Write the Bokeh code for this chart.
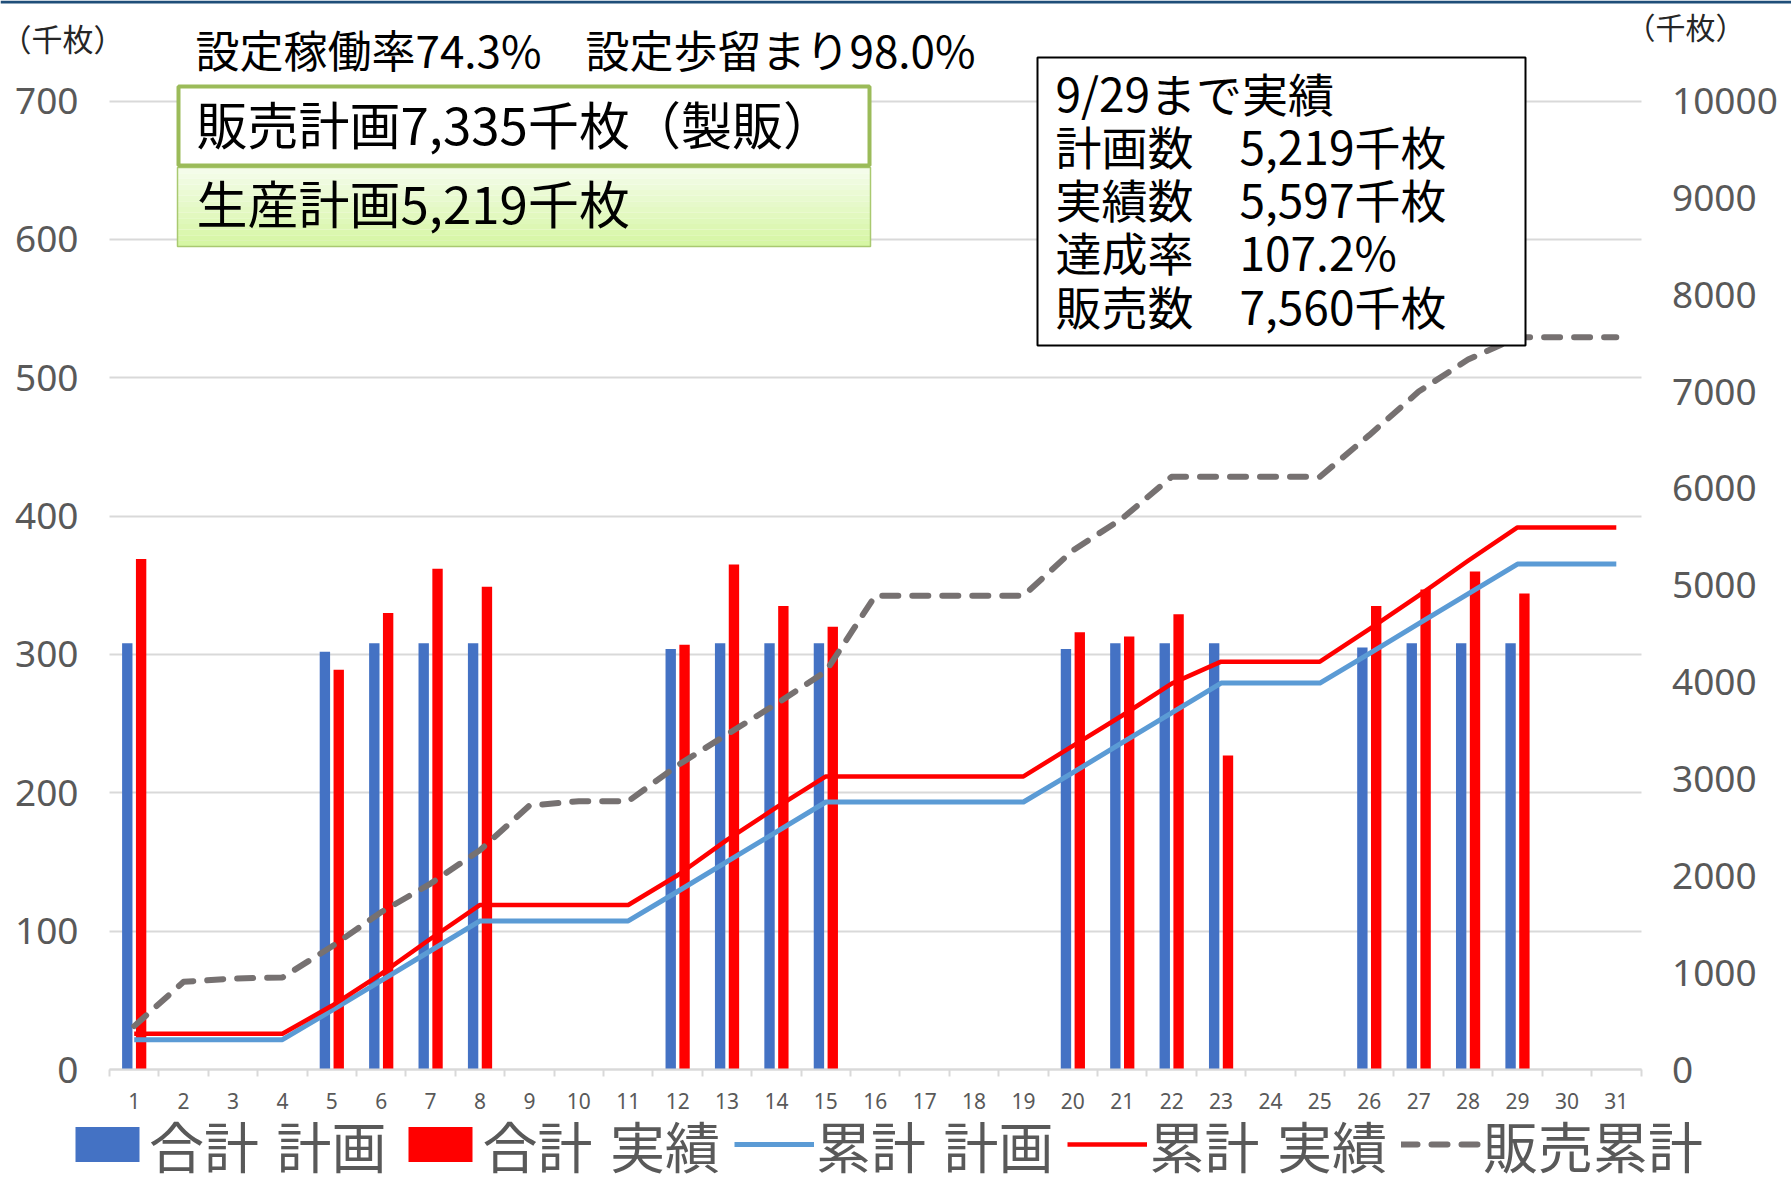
from bokeh.plotting import figure
from bokeh.models import (Range1d, LinearAxis, FixedTicker, ColumnDataSource, Legend,
                          LegendItem, Label, BoxAnnotation, Grid)
from bokeh.transform import dodge
from bokeh.embed import file_html
from bokeh.resources import INLINE

# ---------------- data ----------------
days = list(range(1, 32))
plan_daily = [308, 0, 0, 0, 302, 308, 308, 308, 0, 0, 0, 304, 308, 308, 308, 0,
              0, 0, 0, 304, 308, 308, 308, 0, 0, 305, 308, 308, 308, 0, 0]
actual_daily = [369, 0, 0, 0, 289, 330, 362, 349, 0, 0, 0, 307, 365, 335, 320, 0,
                0, 0, 0, 316, 313, 329, 227, 0, 0, 335, 347, 360, 344, 0, 0]
cum_plan = [308, 308, 308, 308, 610, 918, 1226, 1534, 1534, 1534, 1534, 1838, 2146,
            2454, 2762, 2762, 2762, 2762, 2762, 3066, 3374, 3682, 3990, 3990, 3990,
            4295, 4603, 4911, 5219, 5219, 5219]
cum_actual = [369, 369, 369, 369, 658, 988, 1350, 1699, 1699, 1699, 1699, 2006, 2371,
              2706, 3026, 3026, 3026, 3026, 3026, 3342, 3655, 3984, 4211, 4211, 4211,
              4546, 4893, 5253, 5597, 5597, 5597]
cum_sales = [448, 905, 940, 950, 1270, 1625, 1920, 2265, 2725, 2770, 2770, 3140, 3460,
             3775, 4110, 4892, 4892, 4892, 4892, 5360, 5690, 6120, 6120, 6120, 6120,
             6550, 7000, 7330, 7560, 7560, 7560]
left_ticks = [0, 100, 200, 300, 400, 500, 600, 700]
right_ticks = [0, 1000, 2000, 3000, 4000, 5000, 6000, 7000, 8000, 9000, 10000]
legend_labels = ["合計 計画", "合計 実績", "累計 計画", "累計 実績", "販売累計"]
title_text = "設定稼働率74.3%　設定歩留まり98.0%"
box1_text = "販売計画7,335千枚（製販）"
box2_text = "生産計画5,219千枚"
info_lines = ["9/29まで実績", "計画数　5,219千枚", "実績数　5,597千枚",
              "達成率　107.2%", "販売数　7,560千枚"]
unit_text = "（千枚）"

# ---------------- layout (page pixels) ----------------
W, H = 1791, 1184
FL, FR, FT, FB = 109.0, 1640.5, 100.5, 1069.0   # where the chart area sits
XMIN, XMAX = 0.5, 31.5
YMAX_L, YMAX_R = 700.0, 10000.0
PXX = (FR - FL) / (XMAX - XMIN)
PXY = (FB - FT) / YMAX_L


def dx(px):
    return XMIN + (px - FL) / PXX


def dy(py):
    return (FB - py) / PXY


BLUE = "#4472C4"
RED = "#FF0000"
LBLUE = "#5B9BD5"
GRAY = "#767171"
TXT = "#595959"
GRID = "#D9D9D9"
CJK = "Noto Sans CJK JP"

y0, y1 = dy(H), dy(0)
p = figure(width=W, height=H, x_range=Range1d(dx(0), dx(W)), y_range=Range1d(y0, y1),
           output_backend="svg", toolbar_location=None,
           x_axis_location=None, y_axis_location=None,
           min_border_left=0, min_border_right=0, min_border_top=0, min_border_bottom=0)
p.outline_line_color = None
p.background_fill_color = "white"
p.border_fill_color = "white"
p.extra_y_ranges = {"cum": Range1d(y0 * YMAX_R / YMAX_L, y1 * YMAX_R / YMAX_L)}
p.center = [r for r in p.center if not isinstance(r, Grid)]

# grid
g = Grid(dimension=1, ticker=FixedTicker(ticks=left_ticks), grid_line_color=GRID,
         grid_line_width=2)
if "cross_bounds" in Grid.properties():
    g.cross_bounds = (XMIN, XMAX)
p.add_layout(g, "center")

# axes
xa = LinearAxis(fixed_location=0, bounds=(XMIN, XMAX),
                ticker=FixedTicker(ticks=days, minor_ticks=[d - 0.5 for d in days] + [31.5]))
xa.axis_line_color = GRID
xa.axis_line_width = 2
xa.major_tick_line_color = None
xa.major_tick_out = 0
xa.major_tick_in = 0
xa.minor_tick_line_color = GRID
xa.minor_tick_line_width = 2
xa.minor_tick_out = 7
xa.minor_tick_in = 0
xa.major_label_standoff = 16
xa.major_label_text_font = "Noto Sans"
xa.major_label_text_font_size = "21px"
xa.major_label_text_color = TXT
p.add_layout(xa, "below")

ya = LinearAxis(fixed_location=XMIN, bounds=(0, YMAX_L), ticker=FixedTicker(ticks=left_ticks))
ra = LinearAxis(fixed_location=XMAX, bounds=(0, YMAX_R), y_range_name="cum",
                ticker=FixedTicker(ticks=right_ticks))
for ax in (ya, ra):
    ax.axis_line_color = None
    ax.major_tick_line_color = None
    ax.minor_tick_line_color = None
    ax.major_tick_out = 0
    ax.major_tick_in = 0
    ax.minor_tick_out = 0
    ax.major_label_standoff = 31
    ax.major_label_text_font = "Noto Sans"
    ax.major_label_text_font_size = "37px"
    ax.major_label_text_color = TXT
p.add_layout(ya, "left")
p.add_layout(ra, "right")

# bars
bsrc = ColumnDataSource(dict(
    day=[d for d, v in zip(days, plan_daily) if v > 0],
    plan=[v for v in plan_daily if v > 0],
    actual=[a for a, v in zip(actual_daily, plan_daily) if v > 0],
))
r_plan = p.vbar(x=dodge("day", -0.14, range=p.x_range), top="plan", width=0.21,
                source=bsrc, fill_color=BLUE, line_color=None)
r_act = p.vbar(x=dodge("day", 0.14, range=p.x_range), top="actual", width=0.21,
               source=bsrc, fill_color=RED, line_color=None)

# cumulative lines
lsrc = ColumnDataSource(dict(day=days, cp=cum_plan, ca=cum_actual, cs=cum_sales))
r_cp = p.line("day", "cp", source=lsrc, y_range_name="cum", line_color=LBLUE,
              line_width=5, line_join="round")
r_ca = p.line("day", "ca", source=lsrc, y_range_name="cum", line_color=RED,
              line_width=4.5, line_join="round")
r_cs = p.line("day", "cs", source=lsrc, y_range_name="cum", line_color=GRAY,
              line_width=6, line_dash="16 14", line_cap="round", line_join="round")

# legend
legend = Legend(items=[LegendItem(label=legend_labels[0], renderers=[r_plan]),
                       LegendItem(label=legend_labels[1], renderers=[r_act]),
                       LegendItem(label=legend_labels[2], renderers=[r_cp]),
                       LegendItem(label=legend_labels[3], renderers=[r_ca]),
                       LegendItem(label=legend_labels[4], renderers=[r_cs])],
                orientation="horizontal", location=(67, 0),
                glyph_width=80, glyph_height=44, label_standoff=2, spacing=14,
                padding=0, margin=0, label_text_font="DejaVu Sans, Noto Sans CJK JP",
                label_text_font_size="55px",
                label_text_color=TXT, background_fill_alpha=0, border_line_alpha=0)
p.add_layout(legend, "center")

# top strip
p.add_layout(BoxAnnotation(left=dx(0), right=dx(W), top=dy(0), bottom=dy(3),
                           fill_color="#1F4E79", fill_alpha=1, line_color=None))

# green boxes
n = 14
top2, bot2 = 167, 246
c0 = (0xF4, 0xFC, 0xEA)
c1 = (0xD6, 0xF6, 0xA4)
for i in range(n):
    t = i / (n - 1)
    col = "#%02X%02X%02X" % tuple(int(round(a + (b - a) * t)) for a, b in zip(c0, c1))
    yt = top2 + (bot2 - top2) * i / n
    yb = top2 + (bot2 - top2) * (i + 1) / n
    p.add_layout(BoxAnnotation(left=dx(177), right=dx(870), top=dy(yt), bottom=dy(yb),
                               fill_color=col, fill_alpha=1, line_color=None))
p.add_layout(BoxAnnotation(left=dx(177), right=dx(870), top=dy(top2), bottom=dy(bot2),
                           fill_alpha=0, line_color="#A9C970", line_alpha=1,
                           line_width=1.5))
p.add_layout(BoxAnnotation(left=dx(178), right=dx(869), top=dy(86), bottom=dy(165),
                           fill_color="white", fill_alpha=1, line_color="#9BBB59",
                           line_alpha=1, line_width=4))

# info box
p.add_layout(BoxAnnotation(left=dx(1037), right=dx(1525), top=dy(57), bottom=dy(345),
                           fill_color="white", fill_alpha=1, line_color="black",
                           line_alpha=1, line_width=2))


def lab(px, py, text, size, color="black"):
    p.add_layout(Label(x=dx(px), y=dy(py), text=text, text_font=CJK,
                       text_font_size=size, text_color=color, text_baseline="middle",
                       text_align="left"))


lab(0, 37, unit_text, "31px", "#262626")
lab(1625, 25, unit_text, "30px", "#262626")
lab(195, 48, title_text, "44px")
lab(196, 122, box1_text, "51px")
lab(196, 201, box2_text, "51px")
for k, t in enumerate(info_lines):
    lab(1055, 91 + 53.3 * k, t, "46px")

open("out.html", "w").write(file_html(p, INLINE))
